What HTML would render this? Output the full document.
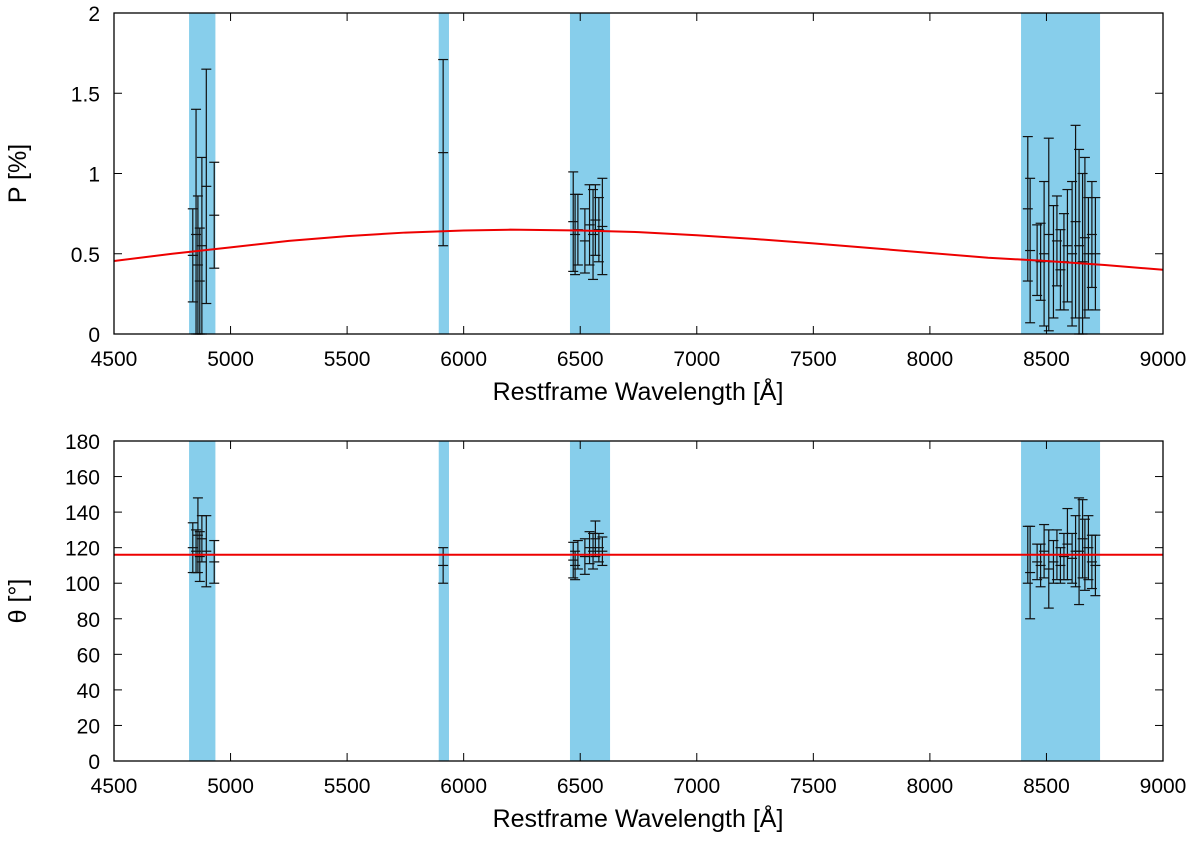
<!DOCTYPE html>
<html><head><meta charset="utf-8"><style>
body{margin:0;background:#fff}
svg{font-family:"Liberation Sans",sans-serif}
</style></head><body>
<svg id="c" width="1200" height="837" xmlns="http://www.w3.org/2000/svg"></svg>
<script>
const bands=[[4822,4935],[5893,5937],[6456,6628],[8391,8730]];
const xTicks=[4500,5000,5500,6000,6500,7000,7500,8000,8500,9000];
const pTicks=[0,0.5,1,1.5,2];
const pTickLabels=["0","0.5","1","1.5","2"];
const thTicks=[0,20,40,60,80,100,120,140,160,180];
const wl=[4838,4852,4860,4868,4877,4896,4930,5912,6470,6478,6490,6520,6540,6555,6565,6580,6595,8420,8430,8460,8475,8490,8510,8530,8545,8560,8575,8590,8610,8625,8640,8655,8665,8680,8695,8710];
const pVal=[0.49,0.62,0.43,0.33,0.55,0.92,0.74,1.13,0.70,0.62,0.65,0.58,0.68,0.62,0.71,0.65,0.67,0.78,0.52,0.46,0.45,0.50,0.62,0.45,0.58,0.40,0.45,0.55,0.50,0.70,0.55,0.45,0.60,0.50,0.62,0.50];
const pErr=[0.29,0.78,0.43,0.33,0.55,0.73,0.33,0.58,0.31,0.25,0.22,0.20,0.25,0.28,0.22,0.20,0.30,0.45,0.45,0.22,0.24,0.45,0.60,0.35,0.28,0.25,0.30,0.35,0.45,0.60,0.60,0.55,0.50,0.35,0.33,0.35];
const thVal=[120,118,127,115,125,118,112,110,113,110,116,115,120,118,125,120,118,116,106,112,110,118,108,112,116,110,115,122,114,118,118,125,116,120,112,110];
const thErr=[14,12,21,14,13,20,12,10,10,8,8,10,9,10,10,8,8,16,26,10,12,15,22,12,14,10,13,20,14,20,30,22,20,18,15,17];
const pFitWl=[4500,4750,5000,5250,5500,5750,6000,6200,6500,6750,7000,7250,7500,7750,8000,8250,8500,8750,9000];
const pFit=[0.455,0.50,0.54,0.58,0.61,0.632,0.645,0.65,0.645,0.635,0.615,0.592,0.565,0.535,0.505,0.475,0.455,0.43,0.40];
const thFit=116;

const NS="http://www.w3.org/2000/svg",svg=document.getElementById('c');
function el(t,a,p){const e=document.createElementNS(NS,t);for(const k in a)e.setAttribute(k,a[k]);(p||svg).appendChild(e);return e;}
const X=v=>114+(v-4500)/4500*1049;
function panel(top,bot,ymax,yTicks,yLabels,vals,errs,fitX,fitY,ylab,name){
  const Y=v=>bot-(v/ymax)*(bot-top);
  const g=el('g',{});
  
  
  bands.forEach(b=>{const r=el('rect',{x:X(b[0]),y:top,width:X(b[1])-X(b[0]),height:bot-top,fill:'#87ceeb'},g);
    });
  wl.forEach((w,i)=>{const x=X(w);const lo=Math.max(0,vals[i]-errs[i]),hi=Math.min(ymax,vals[i]+errs[i]);
    const e=el('g',{stroke:'#111','stroke-width':1.2},g);
    
    el('line',{x1:x,x2:x,y1:Y(lo),y2:Y(hi)},e);
    el('line',{x1:x-5,x2:x+5,y1:Y(lo),y2:Y(lo)},e);
    el('line',{x1:x-5,x2:x+5,y1:Y(hi),y2:Y(hi)},e);
    el('line',{x1:x-5,x2:x+5,y1:Y(vals[i]),y2:Y(vals[i])},e);});
  let d='';fitX.forEach((w,i)=>{d+=(i?'L':'M')+X(w)+','+Y(fitY[i]);});
  const f=el('path',{d:d,stroke:'#e00',fill:'none','stroke-width':2,'stroke-linejoin':'round'},g);
  
  el('rect',{x:114,y:top,width:1049,height:bot-top,fill:'none',stroke:'#000','stroke-width':1.3},g);
  xTicks.forEach(t=>{const x=X(t);el('line',{x1:x,x2:x,y1:bot,y2:bot-8,stroke:'#000'},g);el('line',{x1:x,x2:x,y1:top,y2:top+8,stroke:'#000'},g);
    const tx=el('text',{x:x,y:bot+32,'text-anchor':'middle','font-size':21},g);tx.textContent=t;
    });
  yTicks.forEach((t,i)=>{const y=Y(t);el('line',{x1:114,x2:122,y1:y,y2:y,stroke:'#000'},g);el('line',{x1:1163,x2:1155,y1:y,y2:y,stroke:'#000'},g);
    const tx=el('text',{x:100,y:y+8,'text-anchor':'end','font-size':21},g);tx.textContent=yLabels[i];
    });
  const xl=el('text',{x:638,y:bot+66,'text-anchor':'middle','font-size':25},g);xl.textContent='Restframe Wavelength [Å]';
  
  const cy=(top+bot)/2;
  const yl=el('text',{x:26,y:cy,'text-anchor':'middle','font-size':25,transform:`rotate(-90 26 ${cy})`},g);yl.textContent=ylab;
  
}
panel(13,334,2,pTicks,pTickLabels,pVal,pErr,pFitWl,pFit,'P [%]','polarization-panel');
panel(441,761,180,thTicks,thTicks.map(String),thVal,thErr,[4500,9000],[thFit,thFit],'θ [°]','angle-panel');
</script>
</body></html>
